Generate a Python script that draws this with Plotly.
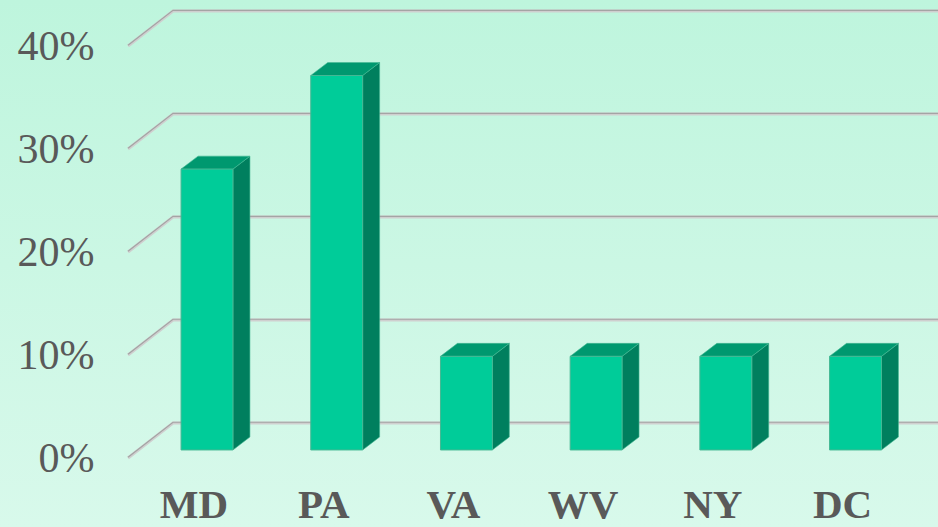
import plotly.graph_objects as go

# ---- data ----
categories = ["MD", "PA", "VA", "WV", "NY", "DC"]
values = [27.27, 36.36, 9.09, 9.09, 9.09, 9.09]   # percent
ytick_vals = [0, 10, 20, 30, 40]
ytick_text = ["0%", "10%", "20%", "30%", "40%"]

# ---- style / geometry (data units) ----
X0, X1 = -1.596, 5.636
Y0, Y1 = -7.48, 43.69
BAR_W = 0.40
BAR_DX, BAR_DY = 0.131, 1.26
FLOOR_FRONT_X, FLOOR_BACK_X = -0.609, -0.262
FRONT_OFF, BACK_OFF = 0.78, 2.62
YLAB_X = -0.868
YLAB_DY = -0.30
XLAB_SHIFT = -0.10
XLAB_Y = -5.63

FRONT = "#00CC99"
TOP = "#00986F"
SIDE = "#007F5E"
EDGE = "#45B894"
TXT = "#595959"

fig = go.Figure()

# background gradient
fig.add_trace(go.Scatter(
    x=[X0, X1, X1, X0, X0], y=[Y0, Y0, Y1, Y1, Y0], mode="none",
    fill="toself", fillcolor="#CCF6E4",
    fillgradient=dict(type="vertical",
                      colorscale=[[0, "#D8F9EB"], [1, "#BEF5DD"]]),
    hoverinfo="skip"))

# gridlines (back wall + left wall diagonals)
gx, gy = [], []
for v in ytick_vals:
    gx += [FLOOR_FRONT_X, FLOOR_BACK_X, X1, None]
    gy += [v - FRONT_OFF, v + BACK_OFF, v + BACK_OFF, None]
fig.add_trace(go.Scatter(x=gx, y=gy, mode="lines",
                         line=dict(color="#cfcfcf", width=3), hoverinfo="skip"))
fig.add_trace(go.Scatter(x=gx, y=[(g + 0.07) if g is not None else None for g in gy],
                         mode="lines", line=dict(color="#a4a4a4", width=1.2),
                         hoverinfo="skip"))

# bars as 3D prisms
for i, v in enumerate(values):
    l, r = i - BAR_W / 2, i + BAR_W / 2
    # side face
    fig.add_trace(go.Scatter(
        x=[r, r + BAR_DX, r + BAR_DX, r, r], y=[0, BAR_DY, v + BAR_DY, v, 0],
        mode="lines", fill="toself", fillcolor=SIDE,
        line=dict(color=EDGE, width=0.6), hoverinfo="skip"))
    # top face
    fig.add_trace(go.Scatter(
        x=[l, l + BAR_DX, r + BAR_DX, r, l], y=[v, v + BAR_DY, v + BAR_DY, v, v],
        mode="lines", fill="toself", fillcolor=TOP,
        line=dict(color=EDGE, width=0.6), hoverinfo="skip"))
    # front face
    fig.add_trace(go.Scatter(
        x=[l, r, r, l, l], y=[0, 0, v, v, 0],
        mode="lines", fill="toself", fillcolor=FRONT,
        line=dict(color=EDGE, width=1), hoverinfo="skip"))

# y labels
fig.add_trace(go.Scatter(
    x=[YLAB_X] * len(ytick_vals), y=[v - FRONT_OFF + YLAB_DY for v in ytick_vals],
    mode="text", text=ytick_text, textposition="middle left",
    textfont=dict(family="Liberation Serif", size=42, color=TXT),
    hoverinfo="skip"))

# x labels
fig.add_trace(go.Scatter(
    x=[i + XLAB_SHIFT for i in range(len(categories))], y=[XLAB_Y] * len(categories),
    mode="text", text=[f"<b>{c}</b>" for c in categories], textposition="middle center",
    textfont=dict(family="Liberation Serif", size=41, color=TXT),
    hoverinfo="skip"))

fig.update_layout(
    width=938, height=527, margin=dict(l=0, r=0, t=0, b=0),
    showlegend=False, paper_bgcolor="#CCF6E4", plot_bgcolor="#CCF6E4",
    xaxis=dict(range=[X0, X1], visible=False, fixedrange=True),
    yaxis=dict(range=[Y0, Y1], visible=False, fixedrange=True),
)
fig.write_html("out.html", config={"displayModeBar": False},
               post_script="document.body.style.margin='0';document.body.style.overflow='hidden';")
